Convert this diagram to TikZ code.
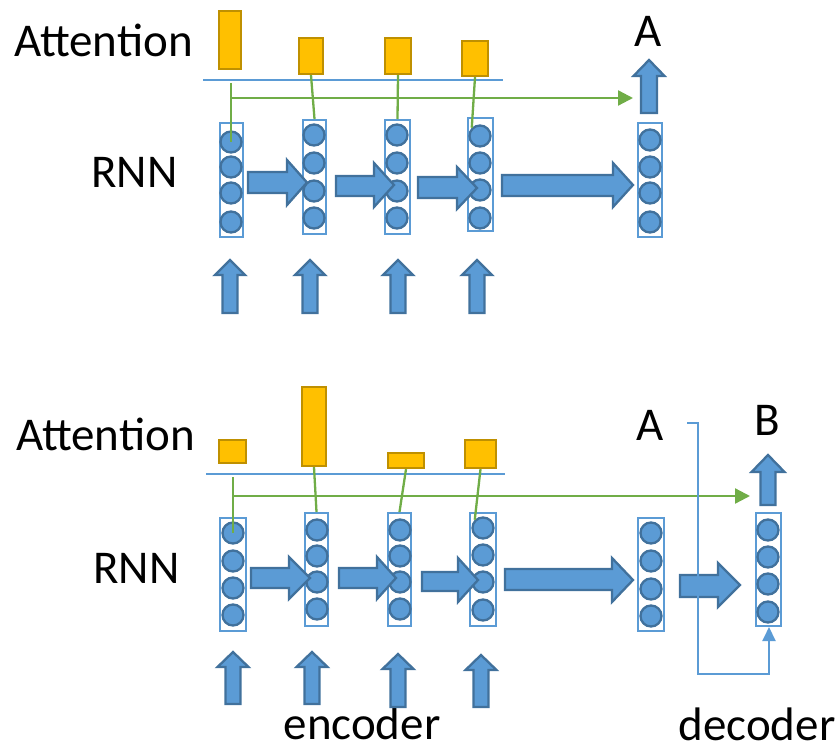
\documentclass[tikz,border=0pt]{standalone}
\usepackage{fontspec}
\setmainfont{Carlito}
\usetikzlibrary{arrows.meta}

\definecolor{cellfill}{HTML}{5B9BD5}
\definecolor{celledge}{HTML}{41719C}
\definecolor{barfill}{HTML}{FFC000}
\definecolor{baredge}{HTML}{BF9000}
\definecolor{linkgreen}{HTML}{70AD47}

\tikzset{
  labeltext/.style={font=\fontsize{47}{50}\selectfont, inner sep=0pt},
  cell/.style={circle, draw=celledge, fill=cellfill, line width=2.3pt,
    minimum size=21pt, inner sep=0pt},
  column/.style={rectangle, draw=cellfill, fill=white, line width=2pt, inner sep=0pt},
  bar/.style={rectangle, draw=baredge, fill=barfill, line width=2.3pt, inner sep=0pt},
  blockarrow/.style={draw=celledge, fill=cellfill, line width=2.3pt, line join=miter},
  link/.style={draw=linkgreen, line width=2.3pt},
  linkarrow/.style={link, -{Triangle[length=15pt,width=15pt]}},
  axisline/.style={draw=cellfill, line width=2.5pt},
  feedback/.style={draw=cellfill, line width=2pt, -{Triangle[length=14pt,width=13pt]}},
}

% RNN column: name, x0, y0, x1, y1 (outer edges), circle x, circle y list
\newcommand\rnncolumn[7]{%
  \pgfmathsetmacro\colw{#4-#2-2}%
  \pgfmathsetmacro\colh{#5-#3-2}%
  \node[column, minimum width=\colw pt, minimum height=\colh pt] (#1)
    at ({(#2+#4)/2},{(#3+#5)/2}) {};
  \foreach \yy [count=\k] in {#7} \node[cell] (#1-\k) at (#6,\yy) {};
}
% attention weight bar: name, x0, y0, x1, y1 (outer edges)
\newcommand\attbar[5]{%
  \pgfmathsetmacro\barw{#4-#2-2}%
  \pgfmathsetmacro\barh{#5-#3-2}%
  \node[bar, minimum width=\barw pt, minimum height=\barh pt] (#1)
    at ({(#2+#4)/2},{(#3+#5)/2}) {};
}
% block arrow to the right: x start, head start, tip, shaft top, shaft bottom, head top, head bottom
\newcommand\rightblock[7]{%
  \draw[blockarrow] (#1,#4) -- (#2,#4) -- (#2,#6) -- (#3,{(#6+#7)/2})
    -- (#2,#7) -- (#2,#5) -- (#1,#5) -- cycle;
}
% block arrow upwards: centre x, tip, head base, bottom, head half width, shaft half width
\newcommand\upblock[6]{%
  \draw[blockarrow] ({#1-#6},#4) -- ({#1-#6},#3) -- ({#1-#5},#3) -- (#1,#2)
    -- ({#1+#5},#3) -- ({#1+#6},#3) -- ({#1+#6},#4) -- cycle;
}

\begin{document}
\begin{tikzpicture}[x=1pt,y=-1pt]
\useasboundingbox (0,0) rectangle (840,746);

% ---------------- upper panel ----------------
\node[labeltext, anchor=base west] (attA) at (14,57) {Attention};
\node[labeltext, anchor=base west] (rnnA) at (91,188) {RNN};
\node[labeltext, anchor=base] (outA) at (648,47) {A};

\attbar{ta1}{218}{10}{242}{70}
\attbar{ta2}{298}{37}{324}{75}
\attbar{ta3}{384}{37}{412}{75}
\attbar{ta4}{461}{40}{489}{77}
\coordinate (axA0) at (203,80);
\coordinate (axA1) at (503,80);
\draw[axisline] (axA0) -- (axA1);

\rnncolumn{ua}{219}{122}{244}{238}{231}{142,167,193,222}
\rnncolumn{ub}{302}{119}{327}{235}{314}{135,163,191,218}
\rnncolumn{uc}{384}{119}{411}{235}{397}{135,163,191,218}
\rnncolumn{ud}{467}{117}{494}{232}{480}{136,163,190,218}
\rnncolumn{ue}{637}{122}{663}{238}{650}{140,167,193,222}

\rightblock{248}{287}{307}{172}{193}{160}{205}
\rightblock{336}{374}{394}{176}{196}{163}{207}
\rightblock{418}{457}{477}{177}{198}{167}{209}
\rightblock{502}{613}{633}{175}{196}{163}{207}

\upblock{230}{260}{275}{313}{15}{7.5}
\upblock{310}{260}{275}{313}{15}{7.5}
\upblock{398}{260}{275}{313}{15}{7.5}
\upblock{477}{260}{275}{313}{15}{7.5}
\upblock{649}{60}{76}{113}{15.5}{8}

\coordinate (gA0) at (231,83);
\coordinate (gA1) at (231,98);
\coordinate (gA2) at (633,98);
\draw[link] (gA0) -- (ua-1.center);
\draw[linkarrow] (gA1) -- (gA2);
\draw[link] (ta2.south) -- (ub.north);
\draw[link] (ta3.south) -- (uc.north);
\draw[link] (ta4.south) -- (ud-1.north west);

% ---------------- lower panel ----------------
\node[labeltext, anchor=base west] (attB) at (16,450) {Attention};
\node[labeltext, anchor=base west] (rnnB) at (93,583) {RNN};
\node[labeltext, anchor=base] (outA2) at (650,440) {A};
\node[labeltext, anchor=base] (outB) at (767,435) {B};
\node[labeltext, anchor=base] (enc) at (362,739) {encoder};
\node[labeltext, anchor=base] (dec) at (757,740) {decoder};

\attbar{tb1}{218}{439}{247}{464}
\attbar{tb2}{301}{386}{327}{467}
\attbar{tb3}{387}{452}{425}{469}
\attbar{tb4}{464}{439}{497}{469}
\coordinate (axB0) at (206,474);
\coordinate (axB1) at (505,474);
\draw[axisline] (axB0) -- (axB1);

\rnncolumn{va}{219}{517}{247}{632}{233}{533,561,588,615}
\rnncolumn{vb}{304}{512}{329}{627}{317}{530,556,582,609}
\rnncolumn{vc}{387}{512}{412}{627}{400}{530,556,582,609}
\rnncolumn{vd}{469}{512}{497}{627}{483}{528,555,582,610}
\rnncolumn{ve}{637}{517}{665}{632}{651}{533,561,589,616}
\rnncolumn{vf}{755}{512}{782}{627}{768}{530,557,584,612}

\rightblock{251}{289}{310}{568}{588}{557}{599}
\rightblock{339}{377}{396}{568}{588}{557}{599}
\rightblock{422}{458}{478}{572}{591}{558}{602}
\rightblock{505}{612}{633}{569}{590}{558}{602}
\rightblock{680}{718}{740}{575}{597}{563}{607}

\upblock{233}{652}{667}{704}{15.5}{7.5}
\upblock{312}{652}{667}{704}{15.5}{7.5}
\upblock{398}{654}{669}{707}{15.5}{7.5}
\upblock{481}{655}{670}{707}{15.5}{7.5}
\upblock{768}{455}{472}{505}{16.5}{7.5}

\coordinate (gB0) at (233,477);
\coordinate (gB1) at (233,496);
\coordinate (gB2) at (750,496);
\draw[link] (gB0) -- (va-1.center);
\draw[linkarrow] (gB1) -- (gB2);
\draw[link] (tb2.south) -- (vb.north);
\draw[link] (tb3.south) -- (vc.north);
\draw[link] (tb4.south) -- (vd-1.north west);

% decoder input fed back from the output label
\coordinate (fb0) at (687,423);
\coordinate (fb1) at (698,423);
\coordinate (fb2) at (698,674);
\coordinate (fb3) at (769,674);
\draw[feedback] (fb0) -- (fb1) -- (fb2) -- (fb3) -- (vf.south -| fb3);
\end{tikzpicture}
\end{document}
